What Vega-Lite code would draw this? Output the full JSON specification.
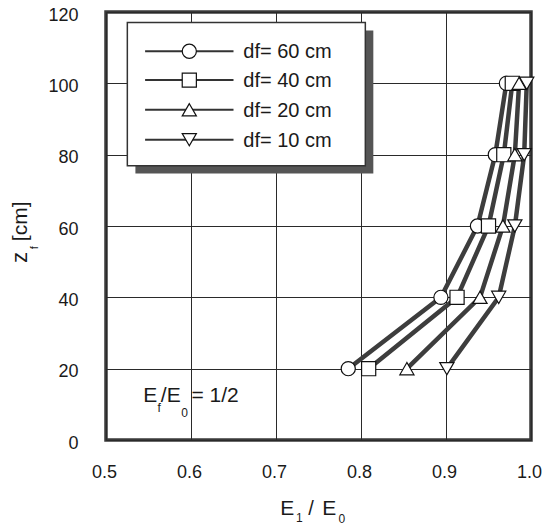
{
  "$schema": "https://vega.github.io/schema/vega-lite/v6.json",
  "width": 425,
  "height": 428,
  "autosize": "none",
  "padding": {"left": 106, "top": 12, "right": 20, "bottom": 86},
  "background": "white",
  "config": {
    "view": {"stroke": "#3a3a3a", "strokeWidth": 3.5},
    "font": "Liberation Sans",
    "text": {"fill": "#1a1a1a", "color": "#1a1a1a"},
    "axis": {
      "grid": true, "gridColor": "#2a2a2a", "gridWidth": 1, "gridOpacity": 1,
      "ticks": false, "tickSize": 0, "domain": false, "labelFlush": false, "labelOverlap": false,
      "labelFont": "Liberation Sans", "labelFontSize": 18, "labelColor": "#1a1a1a", "title": null
    }
  },
  "datasets": {
    "curves": [
      {"series": "df= 60 cm", "e": 0.785, "z": 20},
      {"series": "df= 60 cm", "e": 0.894, "z": 40},
      {"series": "df= 60 cm", "e": 0.937, "z": 60},
      {"series": "df= 60 cm", "e": 0.958, "z": 80},
      {"series": "df= 60 cm", "e": 0.971, "z": 100},
      {"series": "df= 40 cm", "e": 0.809, "z": 20},
      {"series": "df= 40 cm", "e": 0.913, "z": 40},
      {"series": "df= 40 cm", "e": 0.950, "z": 60},
      {"series": "df= 40 cm", "e": 0.968, "z": 80},
      {"series": "df= 40 cm", "e": 0.978, "z": 100},
      {"series": "df= 20 cm", "e": 0.854, "z": 20},
      {"series": "df= 20 cm", "e": 0.940, "z": 40},
      {"series": "df= 20 cm", "e": 0.967, "z": 60},
      {"series": "df= 20 cm", "e": 0.981, "z": 80},
      {"series": "df= 20 cm", "e": 0.986, "z": 100},
      {"series": "df= 10 cm", "e": 0.901, "z": 20},
      {"series": "df= 10 cm", "e": 0.962, "z": 40},
      {"series": "df= 10 cm", "e": 0.981, "z": 60},
      {"series": "df= 10 cm", "e": 0.992, "z": 80},
      {"series": "df= 10 cm", "e": 0.995, "z": 100}
    ],
    "legendRows": [
      {"series": "df= 60 cm", "z": 109.0},
      {"series": "df= 40 cm", "z": 100.9},
      {"series": "df= 20 cm", "z": 92.6},
      {"series": "df= 10 cm", "z": 84.2}
    ],
    "one": [{}]
  },
  "layer": [
    {
      "data": {"name": "curves"},
      "mark": {"type": "line", "color": "#3d3d3d", "strokeWidth": 4.5},
      "encoding": {
        "x": {"field": "e", "type": "quantitative", "scale": {"domain": [0.5, 1.0], "nice": false, "zero": false},
              "axis": {"values": [0.5, 0.6, 0.7, 0.8, 0.9, 1.0], "format": ".1f", "labelPadding": 23, "labelOffset": -2}},
        "y": {"field": "z", "type": "quantitative", "scale": {"domain": [0, 120], "nice": false},
              "axis": {"values": [0, 20, 40, 60, 80, 100, 120], "labelPadding": 28, "labelOffset": 3}},
        "detail": {"field": "series"},
        "order": {"field": "z"}
      }
    },
    {
      "data": {"name": "curves"},
      "mark": {"type": "point", "filled": true, "fill": "white", "stroke": "#111", "strokeWidth": 1.2, "size": 200, "opacity": 1},
      "encoding": {
        "x": {"field": "e", "type": "quantitative"},
        "y": {"field": "z", "type": "quantitative"},
        "shape": {"field": "series", "type": "nominal",
                  "scale": {"domain": ["df= 60 cm", "df= 40 cm", "df= 20 cm", "df= 10 cm"], "range": ["circle", "square", "triangle-up", "triangle-down"]},
                  "legend": null}
      }
    },
    {
      "data": {"name": "one"},
      "mark": {"type": "rect", "fill": "#555", "stroke": null},
      "encoding": {
        "x": {"datum": 0.5346, "type": "quantitative"}, "x2": {"datum": 0.8145},
        "y": {"datum": 114.8, "type": "quantitative"}, "y2": {"datum": 74.7}
      }
    },
    {
      "data": {"name": "one"},
      "mark": {"type": "rect", "fill": "white", "stroke": "#333", "strokeWidth": 1.5},
      "encoding": {
        "x": {"datum": 0.5251, "type": "quantitative"}, "x2": {"datum": 0.8051},
        "y": {"datum": 117.05, "type": "quantitative"}, "y2": {"datum": 76.9}
      }
    },
    {
      "data": {"name": "legendRows"},
      "mark": {"type": "rule", "color": "#333", "strokeWidth": 2},
      "encoding": {
        "x": {"datum": 0.546, "type": "quantitative"}, "x2": {"datum": 0.650},
        "y": {"field": "z", "type": "quantitative"}
      }
    },
    {
      "data": {"name": "legendRows"},
      "mark": {"type": "point", "filled": true, "fill": "white", "stroke": "#111", "strokeWidth": 1.2, "size": 200, "opacity": 1},
      "encoding": {
        "x": {"datum": 0.598, "type": "quantitative"},
        "y": {"field": "z", "type": "quantitative"},
        "shape": {"field": "series", "type": "nominal", "legend": null}
      }
    },
    {
      "data": {"name": "legendRows"},
      "mark": {"type": "text", "align": "left", "baseline": "middle", "fontSize": 20, "fill": "#1a1a1a", "dy": 1},
      "encoding": {
        "x": {"datum": 0.6615, "type": "quantitative"},
        "y": {"field": "z", "type": "quantitative"},
        "text": {"field": "series"}
      }
    },
    {
      "data": {"name": "one"},
      "mark": {"type": "text", "text": "E", "align": "left", "baseline": "alphabetic", "fontSize": 21, "fill": "#1a1a1a"},
      "encoding": {"x": {"datum": 0.5439, "type": "quantitative"}, "y": {"datum": 10.75, "type": "quantitative"}}
    },
    {
      "data": {"name": "one"},
      "mark": {"type": "text", "text": "f", "align": "left", "baseline": "alphabetic", "fontSize": 12, "fill": "#1a1a1a"},
      "encoding": {"x": {"datum": 0.5605, "type": "quantitative"}, "y": {"datum": 7.86, "type": "quantitative"}}
    },
    {
      "data": {"name": "one"},
      "mark": {"type": "text", "text": "/E", "align": "left", "baseline": "alphabetic", "fontSize": 21, "fill": "#1a1a1a"},
      "encoding": {"x": {"datum": 0.5645, "type": "quantitative"}, "y": {"datum": 10.75, "type": "quantitative"}}
    },
    {
      "data": {"name": "one"},
      "mark": {"type": "text", "text": "0", "align": "left", "baseline": "alphabetic", "fontSize": 12, "fill": "#1a1a1a"},
      "encoding": {"x": {"datum": 0.5885, "type": "quantitative"}, "y": {"datum": 6.46, "type": "quantitative"}}
    },
    {
      "data": {"name": "one"},
      "mark": {"type": "text", "text": "= 1/2", "align": "left", "baseline": "alphabetic", "fontSize": 21, "fill": "#1a1a1a"},
      "encoding": {"x": {"datum": 0.6005, "type": "quantitative"}, "y": {"datum": 10.75, "type": "quantitative"}}
    },
    {
      "data": {"name": "one"},
      "mark": {"type": "text", "text": "E", "align": "left", "baseline": "alphabetic", "fontSize": 21, "fill": "#1a1a1a"},
      "encoding": {"x": {"datum": 0.7049, "type": "quantitative"}, "y": {"datum": -21.05, "type": "quantitative"}}
    },
    {
      "data": {"name": "one"},
      "mark": {"type": "text", "text": "1", "align": "left", "baseline": "alphabetic", "fontSize": 12, "fill": "#1a1a1a"},
      "encoding": {"x": {"datum": 0.7235, "type": "quantitative"}, "y": {"datum": -23.0, "type": "quantitative"}}
    },
    {
      "data": {"name": "one"},
      "mark": {"type": "text", "text": "/", "align": "left", "baseline": "alphabetic", "fontSize": 20, "fill": "#1a1a1a"},
      "encoding": {"x": {"datum": 0.738, "type": "quantitative"}, "y": {"datum": -21.05, "type": "quantitative"}}
    },
    {
      "data": {"name": "one"},
      "mark": {"type": "text", "text": "E", "align": "left", "baseline": "alphabetic", "fontSize": 21, "fill": "#1a1a1a"},
      "encoding": {"x": {"datum": 0.7545, "type": "quantitative"}, "y": {"datum": -21.05, "type": "quantitative"}}
    },
    {
      "data": {"name": "one"},
      "mark": {"type": "text", "text": "0", "align": "left", "baseline": "alphabetic", "fontSize": 12, "fill": "#1a1a1a"},
      "encoding": {"x": {"datum": 0.7735, "type": "quantitative"}, "y": {"datum": -23.3, "type": "quantitative"}}
    },
    {
      "data": {"name": "one"},
      "mark": {"type": "text", "text": "z", "angle": 270, "align": "center", "baseline": "alphabetic", "fontSize": 22, "fill": "#1a1a1a"},
      "encoding": {"x": {"datum": 0.4074, "type": "quantitative"}, "y": {"datum": 51.2, "type": "quantitative"}}
    },
    {
      "data": {"name": "one"},
      "mark": {"type": "text", "text": "f", "angle": 270, "align": "center", "baseline": "alphabetic", "fontSize": 11, "fill": "#1a1a1a"},
      "encoding": {"x": {"datum": 0.4204, "type": "quantitative"}, "y": {"datum": 53.9, "type": "quantitative"}}
    },
    {
      "data": {"name": "one"},
      "mark": {"type": "text", "text": "[cm]", "angle": 270, "align": "center", "baseline": "alphabetic", "fontSize": 21, "fill": "#1a1a1a"},
      "encoding": {"x": {"datum": 0.4074, "type": "quantitative"}, "y": {"datum": 61.3, "type": "quantitative"}}
    }
  ]
}
